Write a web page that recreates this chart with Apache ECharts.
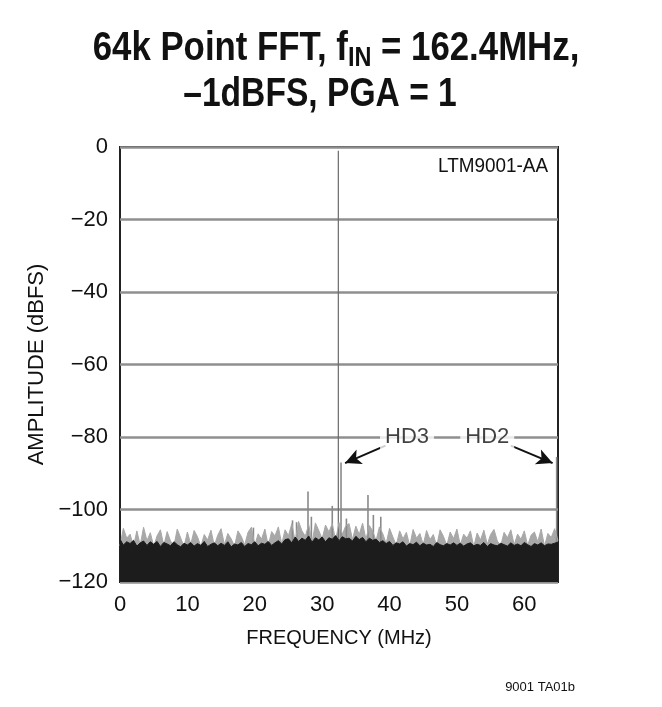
<!DOCTYPE html>
<html>
<head>
<meta charset="utf-8">
<script src="https://cdn.jsdelivr.net/npm/echarts@6/dist/echarts.min.js"></script>
<style>
html,body{margin:0;padding:0;background:#fff;}
#c{width:662px;height:707px;}
</style>
</head>
<body>
<div id="c"></div>
<script>
// ---- data ----
const xTicks = [0, 10, 20, 30, 40, 50, 60];
const yTicks = [0, -20, -40, -60, -80, -100, -120];

// light grey noise spikes, every 0.5 MHz from 0 to 65 MHz (dBFS)
const noiseFreqStep = 0.5;
const noiseSpikes = [
  -110,-105.2,-107.9,-106.8,-110.2,-105.9,-109.8,-104.9,-108.6,-106.4,
  -110.1,-107.3,-105.6,-109.9,-106.1,-108.7,-110,-105.4,-107.8,-110.3,
  -106.2,-109.6,-105.8,-107.5,-110.2,-106.9,-108.4,-105.7,-110,-107.1,
  -105.3,-109.7,-106.6,-108.1,-110.1,-105.9,-107.4,-109.8,-106.3,-104.9,
  -109.9,-106.7,-108.2,-105.4,-110,-106.1,-107.3,-104.8,-109.5,-105.6,
  -107.2,-103.9,-108.8,-103.3,-105.9,-107.4,-104.1,-109.2,-103.7,-105.8,
  -108.1,-104.3,-106.2,-103.9,-108.5,-103.6,-106.8,-104.5,-103.9,-108.3,
  -104.6,-106.9,-103.8,-108.2,-104.4,-105.9,-108.6,-104.8,-106.7,-109.4,
  -105.2,-107.6,-109.8,-105.9,-108.1,-106.3,-110,-105.5,-107.9,-106.6,
  -109.7,-105.8,-108.3,-106.9,-110.1,-105.6,-107.4,-109.9,-106.2,-108,
  -105.4,-109.8,-106.8,-107.9,-105.9,-110.2,-106.5,-108.4,-105.7,-109.6,
  -106.9,-105.5,-108.7,-110,-106.3,-107.8,-105.6,-109.7,-106.8,-108.2,
  -105.9,-109.9,-107.1,-106.2,-108.9,-105.4,-110.1,-106.6,-107.7,-105.3,
  -108.6
];
// dark noise body, every 0.5 MHz from 0 to 65 MHz (dBFS)
const bodyFreqStep = 0.5;
const noiseBody = [
  -108.2,-109.8,-108.9,-109.4,-108.5,-110.1,-109.2,-108.7,-109.9,-108.9,
  -109.6,-108.8,-110.2,-109.1,-109.5,-110,-108.9,-109.7,-110.3,-109.3,
  -109.8,-109.1,-110.1,-109.4,-109.9,-108.8,-110.2,-109.6,-109.2,-110,
  -109.3,-109.9,-108.9,-110.3,-109.5,-109.8,-109.1,-110.2,-109.4,-109.7,
  -108.9,-110,-109.3,-109.6,-108.8,-109.9,-109.2,-108.6,-109.5,-108.3,
  -108.1,-109.2,-107.6,-108.8,-107.9,-108.5,-107.3,-109,-107.8,-108.4,
  -107.6,-108.9,-107.8,-108.2,-107.2,-108.6,-107.5,-108.1,-107.9,-108.7,
  -107.4,-108.3,-107.7,-108.9,-107.9,-108.5,-108.2,-109.1,-108.6,-109.4,
  -108.8,-109.9,-109.2,-109.5,-108.9,-110.1,-109.4,-109.7,-109,-110,
  -109.3,-109.8,-109.6,-110.2,-109.1,-109.7,-110,-109.4,-109.8,-109.2,
  -109.9,-109.3,-110.1,-109.5,-109.2,-110,-109.6,-109.9,-109.1,-110.2,
  -109.4,-109.8,-110,-109.3,-109.7,-110.1,-109.2,-109.9,-109.5,-110,
  -109.1,-109.7,-110.2,-109.4,-109.8,-109.2,-110,-109.5,-109.6,-109.3,
  -109
];
// fundamental
const fundFreq = [32.4];
const fundAmp = [-1];
// spurs / harmonics
const spurFreq = [32.8, 64.8, 27.9, 31.5, 36.8, 37.6, 38.7, 33.6, 26.2, 28.4, 25.6, 19.8];
const spurAmp  = [-87, -85.5, -95, -99, -96, -101.5, -102, -102.5, -103.5, -102, -103, -105];
// annotations
const annText = ['HD3', 'HD2'];
const annX = [42.6, 54.5];
const annY = [-80, -80];
const arrowFrom = [[39.4, -82.4], [58.0, -82.4]];
const arrowTo = [[33.4, -87.2], [64.2, -87.2]];

// ---- build ----
const FONT = '"Liberation Sans",Arial,sans-serif';
const spikeData = noiseSpikes.map((v, i) => [i * noiseFreqStep, v]);
const bodyData = noiseBody.map((v, i) => [i * bodyFreqStep, v]);

function vline(color, width) {
  return function (params, api) {
    const top = api.coord([api.value(0), api.value(1)]);
    const bot = api.coord([api.value(0), -120]);
    return { type: 'line', shape: { x1: top[0], y1: top[1], x2: bot[0], y2: bot[1] },
      style: { stroke: color, lineWidth: width } };
  };
}

const chart = echarts.init(document.getElementById('c'), null, { renderer: 'canvas' });
chart.setOption({
  animation: false,
  backgroundColor: '#fff',
  graphic: [{
    type: 'text', x: 336, y: 26, scaleX: 0.87, z: 10,
    style: {
      text: '{a|64k Point FFT, f}{s|IN}{a| = 162.4MHz,}',
      textAlign: 'center',
      rich: {
        a: { fontFamily: FONT, fontWeight: 'bold', fontSize: 40, lineHeight: 46, fill: '#111' },
        s: { fontFamily: FONT, fontWeight: 'bold', fontSize: 27, lineHeight: 46, fill: '#111', padding: [20, 0, 0, 0] }
      }
    }
  }, {
    type: 'text', x: 320, y: 72, scaleX: 0.84, z: 10,
    style: {
      text: '\u20131dBFS, PGA = 1', textAlign: 'center',
      fontFamily: FONT, fontWeight: 'bold', fontSize: 40, lineHeight: 46, fill: '#111'
    }
  }, {
    type: 'text', x: 548, y: 156, scaleX: 0.9, z: 10,
    style: { text: 'LTM9001-AA', textAlign: 'right', fontFamily: FONT, fontSize: 21, fill: '#111' }
  }, {
    type: 'text', x: 575, y: 681, z: 10,
    style: { text: '9001 TA01b', textAlign: 'right', fontFamily: FONT, fontSize: 13, fill: '#111' }
  }],
  grid: { left: 120, right: 104, top: 147, bottom: 125, show: true, borderColor: '#222', borderWidth: 2, backgroundColor: '#fff' },
  xAxis: {
    type: 'value', min: 0, max: 65, interval: 10,
    name: 'FREQUENCY (MHz)', nameLocation: 'middle', nameGap: 46,
    nameTextStyle: { fontFamily: FONT, fontSize: 20, color: '#111' },
    axisLine: { show: false }, axisTick: { show: false }, splitLine: { show: false },
    axisLabel: { fontFamily: FONT, fontSize: 22, color: '#111', margin: 12, showMaxLabel: false,
      formatter: v => xTicks.indexOf(v) >= 0 ? String(v) : '' }
  },
  yAxis: {
    type: 'value', min: -120, max: 0, interval: 20,
    name: 'AMPLITUDE (dBFS)', nameLocation: 'middle', nameGap: 62,
    nameTextStyle: { fontFamily: FONT, fontSize: 22, color: '#111' },
    axisLine: { show: false }, axisTick: { show: false },
    splitLine: { show: true, lineStyle: { color: '#8f8f8f', width: 2.5 } },
    axisLabel: { fontFamily: FONT, fontSize: 22, color: '#111', margin: 12,
      formatter: v => yTicks.indexOf(v) >= 0 ? String(v).replace('-', '\u2212') : '' }
  },
  series: [
    {
      type: 'line', data: spikeData, showSymbol: false, symbol: 'none',
      lineStyle: { color: '#a8a8a8', width: 1 },
      areaStyle: { color: '#a8a8a8', opacity: 1, origin: 'start' }, z: 2
    },
    {
      type: 'custom', data: spurFreq.map((f, i) => [f, spurAmp[i]]),
      renderItem: vline('#8a8a8a', 1.6), z: 2
    },
    {
      type: 'custom', data: fundFreq.map((f, i) => [f, fundAmp[i]]),
      renderItem: vline('#6a6a6a', 1.2), z: 2
    },
    {
      type: 'line', data: bodyData, showSymbol: false, symbol: 'none',
      lineStyle: { color: '#1c1c1c', width: 1 },
      areaStyle: { color: '#1c1c1c', opacity: 1, origin: 'start' }, z: 3
    },
    {
      type: 'line', data: [], z: 6,
      markLine: {
        silent: true, symbol: ['none', 'arrow'], symbolSize: [12, 16],
        lineStyle: { color: '#111', width: 2, type: 'solid' },
        label: { show: false },
        data: arrowFrom.map((f, i) => [{ coord: f }, { coord: arrowTo[i] }])
      }
    },
    {
      type: 'scatter', symbolSize: 0, z: 7,
      data: annText.map((t, i) => ({ value: [annX[i], annY[i]], name: t })),
      label: {
        show: true, position: 'inside', formatter: p => p.name,
        fontFamily: FONT, fontSize: 22, color: '#111',
        backgroundColor: '#fff', padding: [2, 5, 2, 5]
      }
    }
  ]
});
</script>
</body>
</html>
